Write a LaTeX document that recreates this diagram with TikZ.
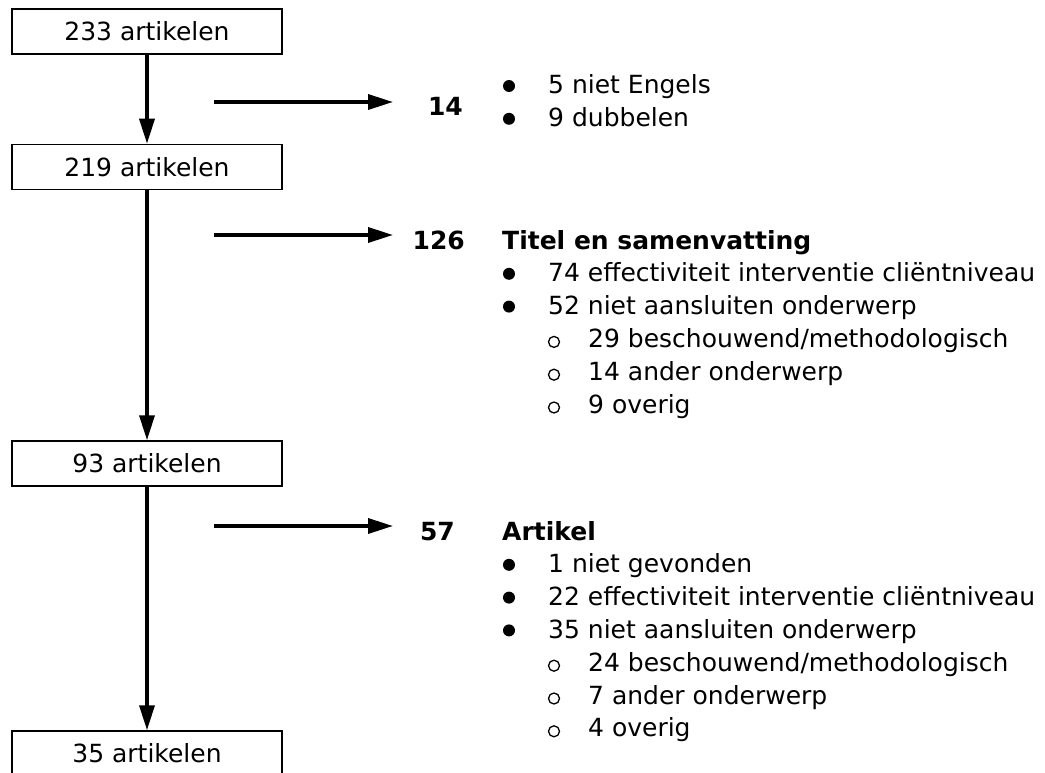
\documentclass[tikz,border=0pt]{standalone}
\usepackage{fontspec}
\setmainfont{DejaVu Sans}
\usetikzlibrary{arrows.meta,positioning}

\begin{document}
\begin{tikzpicture}[
  x=1pt,y=-1pt,
  box/.style={draw,line width=1.5pt,minimum width=270pt,minimum height=45pt,
              inner sep=0pt,font=\fontsize{25}{30}\selectfont},
  arr/.style={-{Triangle[length=25pt,width=15pt]},line width=3.5pt},
  num/.style={anchor=base east,inner sep=0pt,font=\fontsize{25}{30}\selectfont\bfseries},
  head/.style={anchor=base west,inner sep=0pt,font=\fontsize{25}{30}\selectfont\bfseries},
  txt/.style={anchor=base west,inner sep=0pt,font=\fontsize{25}{30}\selectfont},
  dot/.style={fill=black},
  ring/.style={draw=black,line width=1.3pt}
]
\useasboundingbox (0,0) rectangle (1045,773);
\clip (0,0) rectangle (1045,773);

% counts
\node[box] (a233) at (147,31.5) {233 artikelen};
\node[box] (a219) at (147,167) {219 artikelen};
\node[box] (a93) at (147,463.5) {93 artikelen};
\node[box] (a35) at (147,753.5) {35 artikelen};
\draw[arr] (a233) -- (a219);
\draw[arr] (a219) -- (a93);
\draw[arr] (a93) -- (a35);

% exclusions
\coordinate (h1s) at (214,102);
\coordinate (h1e) at (393,102);
\coordinate (h2s) at (214,235);
\coordinate (h2e) at (393,235);
\coordinate (h3s) at (214,526);
\coordinate (h3e) at (393,526);
\draw[arr] (h1s) -- (h1e);
\draw[arr] (h2s) -- (h2e);
\draw[arr] (h3s) -- (h3e);

\node[num] (n14) at (463,116) {14};
\node[num] (n126) at (465,249) {126};
\node[num] (n57) at (455,540) {57};

% first step
\fill[dot] (509,86) circle (6);
\node[txt] (e1) at (548,94) {5 niet Engels};
\fill[dot] (509,118.8) circle (6);
\node[txt] (e2) at (548,126.8) {9 dubbelen};

% title and abstract
\node[head] (ts) at (502,249) {Titel en samenvatting};
\fill[dot] (509,273.8) circle (6);
\node[txt] (ts1) at (548,281.8) {74 effectiviteit interventie cliëntniveau};
\fill[dot] (509,306.6) circle (6);
\node[txt] (ts2) at (548,314.6) {52 niet aansluiten onderwerp};
\draw[ring] (554,341.9) circle (5.5);
\node[txt] (ts3) at (588,347.4) {29 beschouwend/methodologisch};
\draw[ring] (554,374.7) circle (5.5);
\node[txt] (ts4) at (588,380.2) {14 ander onderwerp};
\draw[ring] (554,407.5) circle (5.5);
\node[txt] (ts5) at (588,413) {9 overig};

% full text
\node[head] (ar) at (502,540) {Artikel};
\fill[dot] (509,564.8) circle (6);
\node[txt] (ar1) at (548,572.8) {1 niet gevonden};
\fill[dot] (509,597.6) circle (6);
\node[txt] (ar2) at (548,605.6) {22 effectiviteit interventie cliëntniveau};
\fill[dot] (509,630.4) circle (6);
\node[txt] (ar3) at (548,638.4) {35 niet aansluiten onderwerp};
\draw[ring] (554,665.7) circle (5.5);
\node[txt] (ar4) at (588,671.2) {24 beschouwend/methodologisch};
\draw[ring] (554,698.5) circle (5.5);
\node[txt] (ar5) at (588,704) {7 ander onderwerp};
\draw[ring] (554,731.3) circle (5.5);
\node[txt] (ar6) at (588,736.8) {4 overig};
\end{tikzpicture}
\end{document}
